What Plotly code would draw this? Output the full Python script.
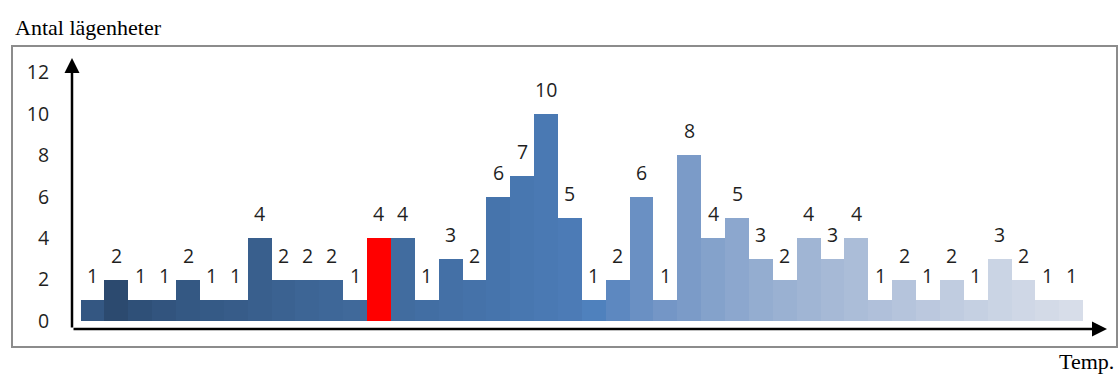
import plotly.graph_objects as go

# Number of apartments per temperature bin (left to right)
bins = list(range(42))
counts = [1, 2, 1, 1, 2, 1, 1, 4, 2, 2, 2, 1, 4, 4, 1, 3, 2, 6, 7, 10, 5,
          1, 2, 6, 1, 8, 4, 5, 3, 2, 4, 3, 4, 1, 2, 1, 2, 1, 3, 2, 1, 1]
y_ticks = [0, 2, 4, 6, 8, 10, 12]
y_title = "Antal lägenheter"
x_title = "Temp."

# Fill colours: dark-to-light blue gradient, highlighted bin in red
bar_colors = [
    "#345782", "#2c4a6f", "#2f5078", "#32547e", "#345883", "#355a86",
    "#375c89", "#395f8d", "#3b6291", "#3d6595", "#3e6798", "#40699a",
    "#ff0000", "#416c9f", "#426ea3", "#4470a6", "#4572a9", "#4674ac",
    "#4877b0", "#4a79b3", "#4c7bb6", "#4f81bd", "#5d88c0", "#6a90c3",
    "#7496c6", "#7b9bc8", "#84a2cb", "#8ca7ce", "#94add0", "#9ab1d2",
    "#a0b5d4", "#a6b9d6", "#abbdd8", "#b0c0da", "#b5c4dc", "#bbc8de",
    "#c0cce0", "#c5d0e2", "#cad4e4", "#cfd7e6", "#d3dae7", "#d7dde9",
]

W, H = 1118, 376
L, R, T, B = 72, 11, 58, 47
pw, ph = W - L - R, H - T - B


def px_x(px):
    return (px - L) / pw


def px_y(py):
    return (H - B - py) / ph


label_font = dict(family="Open Sans", size=19.5, color="#1f1f1f")
serif_font = dict(family="Liberation Serif", size=22, color="#000000")

fig = go.Figure(
    go.Bar(
        x=bins,
        y=counts,
        width=1,
        marker=dict(color=bar_colors, line=dict(width=0)),
        hoverinfo="x+y",
    )
)

annotations = []
# value labels above each bar
for b, c in zip(bins, counts):
    annotations.append(dict(
        x=b, y=c, xref="x", yref="y", text=str(c), showarrow=False,
        yanchor="bottom", yshift=9, font=label_font,
    ))

# axis arrows
annotations.append(dict(
    x=0, y=1, xref="paper", yref="paper", ax=0, ay=ph, axref="pixel",
    ayref="pixel", text="", showarrow=True, arrowhead=2, arrowsize=1.2,
    arrowwidth=2.5, arrowcolor="#000000",
))
annotations.append(dict(
    x=1, y=0, xref="paper", yref="paper", ax=-pw, ay=0, axref="pixel",
    ayref="pixel", text="", showarrow=True, arrowhead=2, arrowsize=1.2,
    arrowwidth=2.5, arrowcolor="#000000",
))

# axis titles
annotations.append(dict(
    x=px_x(13), y=px_y(27), xref="paper", yref="paper", text=y_title,
    showarrow=False, xanchor="left", yanchor="middle", font=serif_font,
))
annotations.append(dict(
    x=px_x(1116), y=px_y(376), xref="paper", yref="paper", text=x_title,
    showarrow=False, xanchor="right", yanchor="bottom", font=serif_font,
))

fig.update_layout(
    width=W, height=H,
    margin=dict(l=L, r=R, t=T, b=B),
    paper_bgcolor="#ffffff",
    plot_bgcolor="rgba(0,0,0,0)",
    bargap=0,
    showlegend=False,
    annotations=annotations,
    shapes=[dict(
        type="rect", xref="paper", yref="paper",
        x0=px_x(12), x1=px_x(1117), y0=px_y(347), y1=px_y(46),
        line=dict(color="#8c8c8c", width=2), fillcolor="rgba(0,0,0,0)",
        layer="below",
    )],
    xaxis=dict(
        range=[-0.86, 42.5], showgrid=False, zeroline=False,
        showline=False, showticklabels=False, ticks="", fixedrange=True,
    ),
    yaxis=dict(
        range=[-0.386, 12.705], tickvals=y_ticks, showgrid=False,
        zeroline=False, showline=False, ticks="outside", ticklen=18,
        tickcolor="rgba(0,0,0,0)", tickfont=label_font, fixedrange=True,
    ),
)

fig.write_html("out.html")
